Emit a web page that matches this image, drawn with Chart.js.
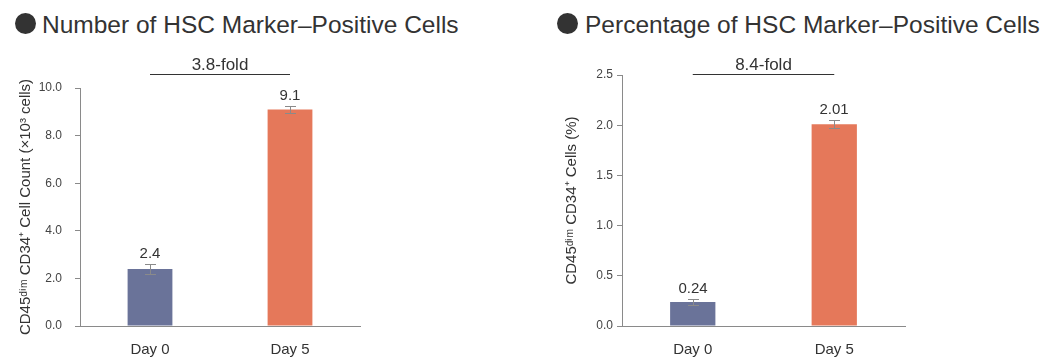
<!DOCTYPE html>
<html>
<head>
<meta charset="utf-8">
<script src="https://cdn.jsdelivr.net/npm/chart.js@4.4.0/dist/chart.umd.min.js"></script>
<style>
  body { margin: 0; width: 1060px; height: 364px; position: relative; background: #fff; overflow: hidden;
         font-family: "Liberation Sans", Arial, sans-serif; }
  .dot { position: absolute; top: 13px; width: 21px; height: 21px; border-radius: 50%; background: #333; }
  .head { position: absolute; top: 12px; font-size: 24.5px; line-height: 26px; color: #333; white-space: nowrap; }
  canvas { position: absolute; top: 0; }
</style>
</head>
<body>
<div class="dot" style="left:15px"></div>
<div class="head" style="left:42px">Number of HSC Marker–Positive Cells</div>
<div class="dot" style="left:557px"></div>
<div class="head" style="left:585px">Percentage of HSC Marker–Positive Cells</div>
<canvas id="countChart" width="530" height="364" style="left:0"></canvas>
<canvas id="pctChart" width="530" height="364" style="left:530px"></canvas>
<script>
// data
const days = ['Day 0', 'Day 5'];
const barColors = ['#6a7399', '#e5785a'];

const countValues = [2.4, 9.1];
const countErrors = [0.2, 0.13];
const countLabels = ['2.4', '9.1'];
const countFold = '3.8-fold';

const pctValues = [0.24, 2.01];
const pctErrors = [0.03, 0.04];
const pctLabels = ['0.24', '2.01'];
const pctFold = '8.4-fold';

Chart.defaults.font.family = '"Liberation Sans", Arial, sans-serif';
Chart.defaults.color = '#333';

// error bars, value labels and the fold bracket
const extras = {
  id: 'extras',
  afterDatasetsDraw(chart, args, opts) {
    const ctx = chart.ctx, x = chart.scales.x, y = chart.scales.y;
    const vals = chart.data.datasets[0].data;
    ctx.save();
    ctx.lineWidth = 1;
    ctx.textAlign = 'center';
    ctx.textBaseline = 'alphabetic';
    vals.forEach((v, i) => {
      const cx = Math.round(x.getPixelForValue(i));
      const top = Math.round(y.getPixelForValue(v + opts.errors[i]));
      const bot = Math.round(y.getPixelForValue(v - opts.errors[i]));
      ctx.strokeStyle = '#8a8a8a';
      ctx.beginPath();
      ctx.moveTo(cx + 0.5, top); ctx.lineTo(cx + 0.5, bot);
      ctx.moveTo(cx - 5, top + 0.5); ctx.lineTo(cx + 6, top + 0.5);
      ctx.moveTo(cx - 5, bot + 0.5); ctx.lineTo(cx + 6, bot + 0.5);
      ctx.stroke();
      ctx.fillStyle = '#333';
      ctx.font = '15px "Liberation Sans", Arial';
      ctx.fillText(opts.labels[i], cx, top - 6);
    });
    const x0 = x.getPixelForValue(0), x1 = x.getPixelForValue(1);
    ctx.strokeStyle = '#333';
    ctx.beginPath();
    ctx.moveTo(x0, opts.foldY + 0.5); ctx.lineTo(x1, opts.foldY + 0.5);
    ctx.stroke();
    ctx.font = '17px "Liberation Sans", Arial';
    ctx.fillText(opts.fold, (x0 + x1) / 2, opts.foldY - 4);
    ctx.restore();
  }
};

function makeChart(id, s) {
  return new Chart(document.getElementById(id), {
    type: 'bar',
    data: {
      labels: days,
      datasets: [{ data: s.values, backgroundColor: barColors, borderWidth: 0,
                   barPercentage: 0.32, categoryPercentage: 1 }]
    },
    options: {
      responsive: false,
      animation: false,
      layout: { padding: s.padding },
      plugins: {
        legend: { display: false },
        tooltip: { enabled: false },
        extras: { errors: s.errors, labels: s.labels, fold: s.fold, foldY: 74 }
      },
      scales: {
        x: {
          afterFit(sc) { sc.height = 38; },
          grid: { display: false },
          border: { color: '#8a8a8a' },
          ticks: { font: { size: 15 }, color: '#333', padding: 7 }
        },
        y: {
          min: 0, max: s.max,
          afterFit(sc) { sc.width = s.yWidth; },
          ticks: { stepSize: s.step, callback: v => v.toFixed(1), font: { size: 12 }, color: '#444', padding: s.tickPad },
          grid: { drawOnChartArea: false, tickLength: 5, color: '#8a8a8a' },
          border: { color: '#8a8a8a' },
          title: { display: true, text: s.title, font: { size: 15 }, color: '#333',
                   padding: { top: s.titlePad, bottom: 0 } }
        }
      }
    },
    plugins: [extras]
  });
}

makeChart('countChart', {
  values: countValues, errors: countErrors, labels: countLabels, fold: countFold,
  max: 10, step: 2, yWidth: 80, tickPad: 13, titlePad: 17,
  padding: { left: 0, right: 170, top: 88, bottom: 0 },
  title: 'CD45ᵈⁱᵐ CD34⁺ Cell Count (×10³ cells)'
});

makeChart('pctChart', {
  values: pctValues, errors: pctErrors, labels: pctLabels, fold: pctFold,
  max: 2.5, step: 0.5, yWidth: 92, tickPad: 4, titlePad: 33,
  padding: { left: 0, right: 155, top: 75, bottom: 0 },
  title: 'CD45ᵈⁱᵐ CD34⁺ Cells (%)'
});
</script>
</body>
</html>
